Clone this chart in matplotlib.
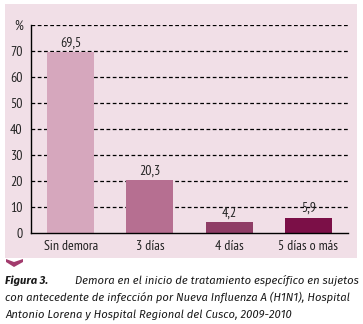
import matplotlib.pyplot as plt
from matplotlib.patches import Rectangle, Polygon

categorias = ['Sin demora', '3 días', '4 días', '5 días o más']
valores = [69.5, 20.3, 4.2, 5.9]
etiquetas = ['69,5', '20,3', '4,2', '5,9']
colores = ['#d6a7bd', '#b66f91', '#8f3d66', '#7b0f47']
yticks = [0, 10, 20, 30, 40, 50, 60, 70, 80]
yticklabels = ['0', '10', '20', '30', '40', '50', '60', '70', '%']

fuente = ['PT Sans Narrow', 'DejaVu Sans']
fuente_pie = ['Fira Sans', 'DejaVu Sans']

fig = plt.figure(figsize=(3.63, 3.24), dpi=100)
fig.patch.set_facecolor('white')
W, H = 363.0, 324.0

# panel rosado de fondo
fig.patches.append(Rectangle((5 / W, 1 - 258 / H), 352 / W, 254 / H,
                             transform=fig.transFigure, facecolor='#f1dfe7',
                             edgecolor='none', zorder=-5))
# pestaña bajo el panel
fig.patches.append(Polygon([(6 / W, 1 - 259 / H), (14 / W, 1 - 262 / H),
                            (23 / W, 1 - 259 / H), (23 / W, 1 - 262 / H),
                            (14 / W, 1 - 267 / H), (6 / W, 1 - 262 / H)],
                           closed=True, transform=fig.transFigure,
                           facecolor='#a23b6d', edgecolor='none', zorder=-5))

ax = fig.add_axes([31 / W, 1 - 233 / H, 317 / W, 208 / H])
ax.set_facecolor('none')
x = range(len(categorias))
ax.bar(x, valores, width=0.59, color=colores, zorder=2)
for xi, v, t in zip(x, valores, etiquetas):
    ax.text(xi, v + 1.0, t, ha='center', va='bottom', fontsize=10,
            family=fuente, color='#222222')

for y in yticks[1:]:
    ax.axhline(y, color='black', lw=0.9, ls=(0, (3, 2)), zorder=1)

ax.set_xlim(-0.5, 3.5)
ax.set_ylim(0, 80)
ax.set_yticks(yticks)
ax.set_yticklabels(yticklabels, family=fuente, fontsize=10, color='#222222')
ax.set_xticks(list(x))
ax.set_xticklabels(categorias, family=fuente, fontsize=10, color='#222222')
ax.tick_params(length=0)
ax.tick_params(axis='x', pad=5)
ax.tick_params(axis='y', pad=6)
for s in ['top', 'right']:
    ax.spines[s].set_visible(False)
ax.spines['left'].set_linewidth(1)
ax.spines['bottom'].set_linewidth(1)

# pie de figura
tam = 8.1
x0, x1 = 5.0, 359.0
estilo = dict(fontsize=tam, family=fuente_pie, style='italic',
              color='#1a1a1a', va='baseline')
fig.text(x0 / W, 1 - 284 / H, 'Figura 3.', weight='bold', **estilo)
fig.text(x1 / W, 1 - 284 / H,
         'Demora en el inicio de tratamiento específico en sujetos',
         ha='right', **estilo)
fig.text(x0 / W, 1 - 301 / H,
         'con antecedente de infección por Nueva Influenza A (H1N1), Hospital',
         **estilo)
fig.text(x0 / W, 1 - 318 / H,
         'Antonio Lorena y Hospital Regional del Cusco, 2009-2010', **estilo)

fig.savefig('out.png', dpi=100)
